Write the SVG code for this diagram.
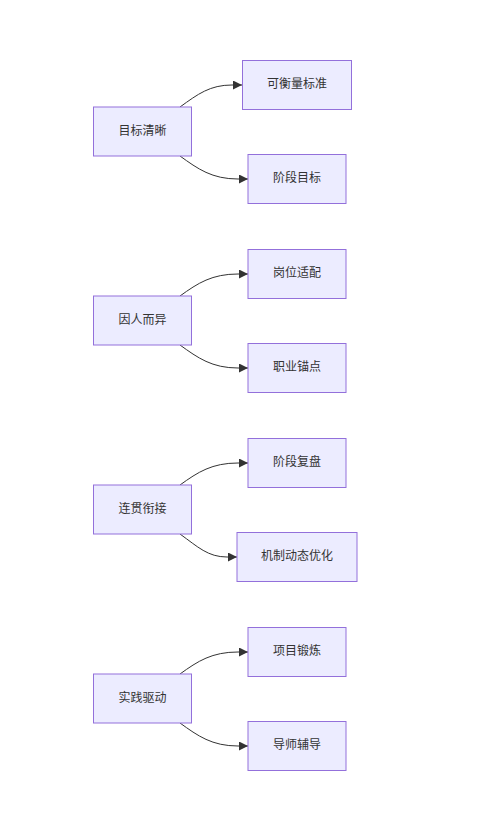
<svg xmlns="http://www.w3.org/2000/svg" width="496" height="835" viewBox="0 0 496 835">
<style>
.node rect{fill:#ECECFF;stroke:#9370DB;stroke-width:1}
.node text{font-family:"Noto Sans CJK SC","Liberation Sans",sans-serif;font-size:12px;fill:#333;text-anchor:middle;dominant-baseline:central}
.edge{fill:none;stroke:#333;stroke-width:1}
</style>
<defs>
<marker id="arrow" viewBox="0 0 10 10" refX="10" refY="5" markerUnits="userSpaceOnUse" markerWidth="10" markerHeight="9" orient="auto">
<path d="M0,0 L10,5 L0,10 z" fill="#333"/>
</marker>
</defs>
<rect width="496" height="835" fill="#fff"/>
<g id="connectors">
<path class="edge" d="M180,107 C198,94 210,85 232,85 L242,85" marker-end="url(#arrow)"/>
<path class="edge" d="M180,156 C198,169 212,179 238,179 L248,179" marker-end="url(#arrow)"/>
<path class="edge" d="M180,296 C198,283 212,274 238,274 L248,274" marker-end="url(#arrow)"/>
<path class="edge" d="M180,345 C198,358 212,368 238,368 L248,368" marker-end="url(#arrow)"/>
<path class="edge" d="M180,485 C198,472 212,463 238,463 L248,463" marker-end="url(#arrow)"/>
<path class="edge" d="M180,534 C198,547 208,557 227,557 L237,557" marker-end="url(#arrow)"/>
<path class="edge" d="M180,674 C198,661 212,652 238,652 L248,652" marker-end="url(#arrow)"/>
<path class="edge" d="M180,723 C198,736 212,746 238,746 L248,746" marker-end="url(#arrow)"/>
</g>
<g id="n1" class="node"><rect x="93.5" y="107" width="98" height="49"/><text x="142.5" y="129">目标清晰</text></g>
<g id="n2" class="node"><rect x="242.5" y="60.5" width="109" height="49"/><text x="297" y="82.5">可衡量标准</text></g>
<g id="n3" class="node"><rect x="248" y="154.5" width="98" height="49"/><text x="297" y="176.5">阶段目标</text></g>
<g id="n4" class="node"><rect x="93.5" y="296" width="98" height="49"/><text x="142.5" y="318">因人而异</text></g>
<g id="n5" class="node"><rect x="248" y="249.5" width="98" height="49"/><text x="297" y="271.5">岗位适配</text></g>
<g id="n6" class="node"><rect x="248" y="343.5" width="98" height="49"/><text x="297" y="365.5">职业锚点</text></g>
<g id="n7" class="node"><rect x="93.5" y="485" width="98" height="49"/><text x="142.5" y="507">连贯衔接</text></g>
<g id="n8" class="node"><rect x="248" y="438.5" width="98" height="49"/><text x="297" y="460.5">阶段复盘</text></g>
<g id="n9" class="node"><rect x="237" y="532.5" width="120" height="49"/><text x="297" y="554.5">机制动态优化</text></g>
<g id="n10" class="node"><rect x="93.5" y="674" width="98" height="49"/><text x="142.5" y="696">实践驱动</text></g>
<g id="n11" class="node"><rect x="248" y="627.5" width="98" height="49"/><text x="297" y="649.5">项目锻炼</text></g>
<g id="n12" class="node"><rect x="248" y="721.5" width="98" height="49"/><text x="297" y="743.5">导师辅导</text></g>
</svg>
